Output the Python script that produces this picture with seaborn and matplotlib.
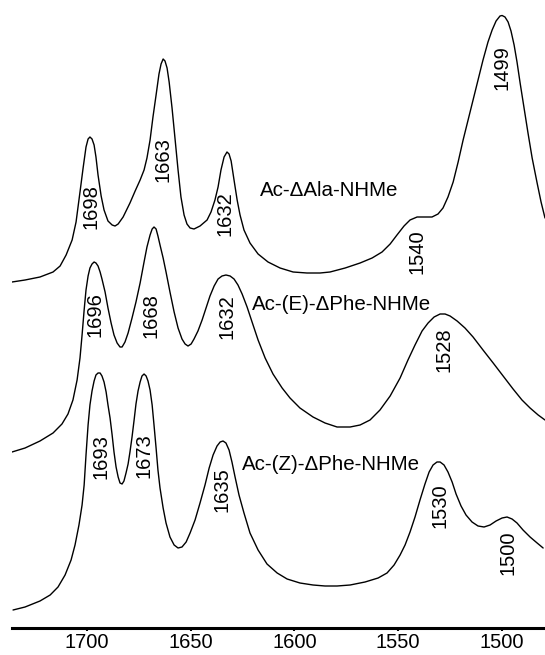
import matplotlib
matplotlib.use("Agg")
import matplotlib.pyplot as plt
import seaborn as sns
import pandas as pd

# (wavenumber cm-1, offset absorbance)
ala = [(1736.2, 3.46), (1729.9, 3.48), (1722.7, 3.51), (1716.4, 3.56), (1713.0, 3.62),
       (1710.1, 3.73), (1707.2, 3.88), (1705.3, 4.06), (1703.4, 4.36), (1701.9, 4.60),
       (1700.5, 4.81), (1699.5, 4.89), (1698.6, 4.91), (1697.6, 4.89), (1696.6, 4.83),
       (1695.7, 4.71), (1694.7, 4.53), (1693.2, 4.32), (1691.8, 4.18), (1689.9, 4.07),
       (1687.9, 4.03), (1686.5, 4.02), (1685.0, 4.04), (1682.6, 4.11), (1679.3, 4.25),
       (1676.8, 4.37), (1674.4, 4.48), (1672.5, 4.58), (1671.1, 4.70), (1669.6, 4.88),
       (1668.2, 5.11), (1666.7, 5.33), (1665.3, 5.54), (1664.3, 5.64), (1663.3, 5.69),
       (1662.4, 5.67), (1661.4, 5.60), (1660.4, 5.46), (1659.0, 5.20), (1657.5, 4.88),
       (1656.1, 4.58), (1654.7, 4.31), (1653.2, 4.13), (1651.8, 4.04), (1650.3, 4.00),
       (1648.4, 3.99), (1645.5, 4.02), (1642.1, 4.08), (1640.2, 4.16), (1638.3, 4.28),
       (1636.8, 4.41), (1635.4, 4.58), (1633.9, 4.71), (1632.5, 4.76), (1631.5, 4.74),
       (1630.5, 4.67), (1629.1, 4.48), (1627.6, 4.28), (1626.2, 4.13), (1624.3, 3.98),
       (1621.4, 3.85), (1617.5, 3.74), (1612.7, 3.66), (1606.9, 3.60), (1600.6, 3.56),
       (1593.9, 3.55), (1587.6, 3.55), (1582.8, 3.56), (1575.5, 3.60), (1568.3, 3.65),
       (1562.5, 3.70), (1557.7, 3.76), (1553.8, 3.84), (1550.5, 3.93), (1547.1, 4.02),
       (1544.2, 4.08), (1540.8, 4.11), (1537.0, 4.11), (1533.6, 4.11), (1530.7, 4.14),
       (1528.3, 4.20), (1525.9, 4.31), (1523.4, 4.46), (1521.0, 4.66), (1518.6, 4.88),
       (1516.2, 5.08), (1513.8, 5.28), (1511.4, 5.48), (1509.0, 5.68), (1506.6, 5.86),
       (1504.6, 5.98), (1502.7, 6.07), (1500.8, 6.12), (1499.8, 6.125), (1498.4, 6.11),
       (1496.9, 6.06), (1495.5, 5.97), (1494.0, 5.83), (1492.6, 5.66), (1491.1, 5.45),
       (1489.2, 5.20), (1487.3, 4.95), (1485.3, 4.70), (1482.9, 4.45), (1481.0, 4.26),
       (1479.1, 4.10)]

ephe = [(1736.2, 1.76), (1729.9, 1.80), (1722.7, 1.87), (1716.4, 1.95), (1712.1, 2.04),
        (1709.2, 2.14), (1706.8, 2.28), (1704.8, 2.48), (1703.4, 2.70), (1702.4, 2.93),
        (1701.4, 3.18), (1700.5, 3.38), (1699.5, 3.52), (1698.6, 3.60), (1697.6, 3.64),
        (1696.6, 3.66), (1695.7, 3.65), (1694.7, 3.62), (1693.7, 3.56), (1692.8, 3.49),
        (1691.3, 3.36), (1689.9, 3.20), (1688.4, 3.05), (1687.0, 2.93), (1685.5, 2.85),
        (1684.1, 2.81), (1683.1, 2.81), (1681.7, 2.86), (1680.2, 2.95), (1678.3, 3.10),
        (1676.4, 3.26), (1674.4, 3.45), (1672.5, 3.66), (1671.1, 3.81), (1669.6, 3.93),
        (1668.6, 3.99), (1667.7, 4.01), (1666.7, 3.99), (1665.8, 3.92), (1664.8, 3.83),
        (1663.3, 3.70), (1661.9, 3.56), (1660.0, 3.36), (1658.0, 3.16), (1656.1, 3.00),
        (1654.2, 2.89), (1652.7, 2.84), (1651.3, 2.82), (1649.8, 2.84), (1648.4, 2.89),
        (1646.5, 2.97), (1644.5, 3.08), (1642.6, 3.20), (1640.7, 3.32), (1638.7, 3.42),
        (1636.8, 3.49), (1634.9, 3.52), (1633.0, 3.53), (1631.0, 3.52), (1629.1, 3.49),
        (1627.2, 3.43), (1625.2, 3.34), (1622.8, 3.21), (1620.4, 3.06), (1617.5, 2.88),
        (1614.1, 2.70), (1610.3, 2.54), (1605.9, 2.40), (1602.1, 2.30), (1597.3, 2.20),
        (1591.0, 2.11), (1585.2, 2.05), (1579.4, 2.01), (1573.1, 2.01), (1568.3, 2.03),
        (1563.5, 2.08), (1558.7, 2.18), (1553.8, 2.32), (1549.0, 2.50), (1545.2, 2.68),
        (1541.8, 2.83), (1538.4, 2.97), (1535.5, 3.05), (1532.6, 3.11), (1529.7, 3.14),
        (1527.3, 3.14), (1524.9, 3.12), (1521.5, 3.07), (1517.7, 3.00), (1513.8, 2.91),
        (1509.0, 2.78), (1504.1, 2.65), (1499.3, 2.52), (1494.5, 2.39), (1490.2, 2.28),
        (1486.3, 2.20), (1482.4, 2.13), (1479.1, 2.08)]

zphe = [(1735.7, 0.18), (1729.9, 0.21), (1722.7, 0.27), (1717.8, 0.33), (1714.0, 0.41),
        (1710.6, 0.53), (1707.7, 0.68), (1705.8, 0.83), (1703.9, 1.03), (1702.4, 1.23),
        (1701.4, 1.43), (1700.5, 1.73), (1699.5, 2.03), (1698.6, 2.23), (1697.6, 2.37),
        (1696.6, 2.47), (1695.7, 2.53), (1694.7, 2.55), (1693.7, 2.55), (1692.8, 2.52),
        (1691.8, 2.46), (1690.8, 2.36), (1689.9, 2.23), (1688.9, 2.10), (1687.9, 1.93),
        (1687.0, 1.76), (1686.0, 1.61), (1685.0, 1.51), (1684.1, 1.45), (1683.1, 1.44),
        (1682.2, 1.47), (1681.2, 1.55), (1680.2, 1.64), (1679.3, 1.76), (1678.3, 1.91),
        (1677.3, 2.08), (1676.4, 2.24), (1675.4, 2.37), (1674.4, 2.46), (1673.5, 2.52),
        (1672.5, 2.54), (1671.5, 2.52), (1670.6, 2.47), (1669.6, 2.38), (1668.6, 2.23),
        (1667.7, 2.03), (1666.7, 1.80), (1665.8, 1.58), (1664.8, 1.40), (1663.3, 1.20),
        (1661.9, 1.05), (1660.0, 0.91), (1658.0, 0.83), (1656.1, 0.80), (1654.2, 0.81),
        (1652.2, 0.86), (1650.3, 0.95), (1647.9, 1.08), (1645.5, 1.25), (1643.1, 1.43),
        (1641.1, 1.60), (1639.2, 1.73), (1637.3, 1.82), (1635.8, 1.86), (1634.4, 1.87),
        (1633.0, 1.85), (1631.5, 1.78), (1630.1, 1.66), (1628.6, 1.51), (1626.7, 1.33),
        (1624.3, 1.15), (1621.4, 0.95), (1617.5, 0.78), (1613.2, 0.64), (1608.3, 0.55),
        (1603.5, 0.49), (1597.3, 0.45), (1591.0, 0.43), (1585.2, 0.42), (1579.4, 0.42),
        (1573.1, 0.43), (1565.9, 0.46), (1559.6, 0.50), (1555.3, 0.55), (1551.9, 0.63),
        (1549.0, 0.73), (1546.6, 0.83), (1544.2, 0.96), (1541.8, 1.11), (1539.4, 1.28),
        (1537.0, 1.44), (1535.0, 1.56), (1533.1, 1.63), (1531.2, 1.66), (1529.7, 1.66),
        (1527.8, 1.63), (1525.9, 1.56), (1523.9, 1.46), (1522.0, 1.34), (1519.6, 1.22),
        (1517.2, 1.13), (1514.3, 1.06), (1511.4, 1.02), (1508.5, 1.01), (1505.6, 1.03),
        (1502.7, 1.07), (1499.8, 1.10), (1497.4, 1.11), (1495.0, 1.09), (1492.6, 1.05),
        (1489.7, 0.98), (1486.3, 0.91), (1482.9, 0.85), (1480.0, 0.80)]

# compound names and peak labels
names = ["Ac-\u0394Ala-NHMe", "Ac-(E)-\u0394Phe-NHMe", "Ac-(Z)-\u0394Phe-NHMe"]
peak_text = ["1698", "1663", "1632", "1540", "1499",
             "1696", "1668", "1632", "1528",
             "1693", "1673", "1635", "1530", "1500"]
peak_x = [1698.1, 1663.3, 1633.4, 1540.8, 1499.8,
          1696.1, 1669.1, 1632.5, 1527.8,
          1693.2, 1672.5, 1634.9, 1529.7, 1496.9]
peak_y = [4.21, 4.68, 4.14, 3.76, 5.60,
          3.13, 3.12, 3.11, 2.78,
          1.71, 1.72, 1.38, 1.22, 0.75]
name_x = [1616.5, 1620.4, 1625.2]
name_y = [4.37, 3.24, 1.64]

xticks = [1700, 1650, 1600, 1550, 1500]

sns.set_style("white")
plt.rcParams["font.family"] = ["Liberation Sans", "DejaVu Sans"]
plt.rcParams["text.color"] = "black"
plt.rcParams["xtick.color"] = "black"

fig = plt.figure(figsize=(5.45, 6.55), dpi=100)
ax = fig.add_axes([12 / 545, 27 / 655, 533 / 545, 628 / 655])

rows = []
for nm, spec in zip(names, [ala, ephe, zphe]):
    for wn, a in spec:
        rows.append({"wn": wn, "a": a, "s": nm})
df = pd.DataFrame(rows)

for nm in names:
    sns.lineplot(data=df[df["s"] == nm], x="wn", y="a", sort=False, estimator=None,
                 color="black", linewidth=1.0, ax=ax, legend=False)

for t, x, y in zip(peak_text, peak_x, peak_y):
    ax.text(x, y, t, rotation=90, ha="center", va="center", fontsize=14.5)
for nm, x, y in zip(names, name_x, name_y):
    ax.text(x, y, nm, ha="left", va="center", fontsize=14.8)

ax.set_xlim(1736.2, 1479.1)
ax.set_ylim(0, 6.28)
ax.set_xticks(xticks)
ax.set_yticks([])
ax.set_xlabel("")
ax.set_ylabel("")
for side in ["top", "left", "right"]:
    ax.spines[side].set_visible(False)
ax.spines["bottom"].set_linewidth(2.2)
ax.spines["bottom"].set_color("black")
ax.tick_params(axis="x", direction="out", length=2, width=1.5, labelsize=14.5,
               pad=1.5, bottom=True)
ax.patch.set_alpha(0)

fig.savefig("out.png", dpi=100)
